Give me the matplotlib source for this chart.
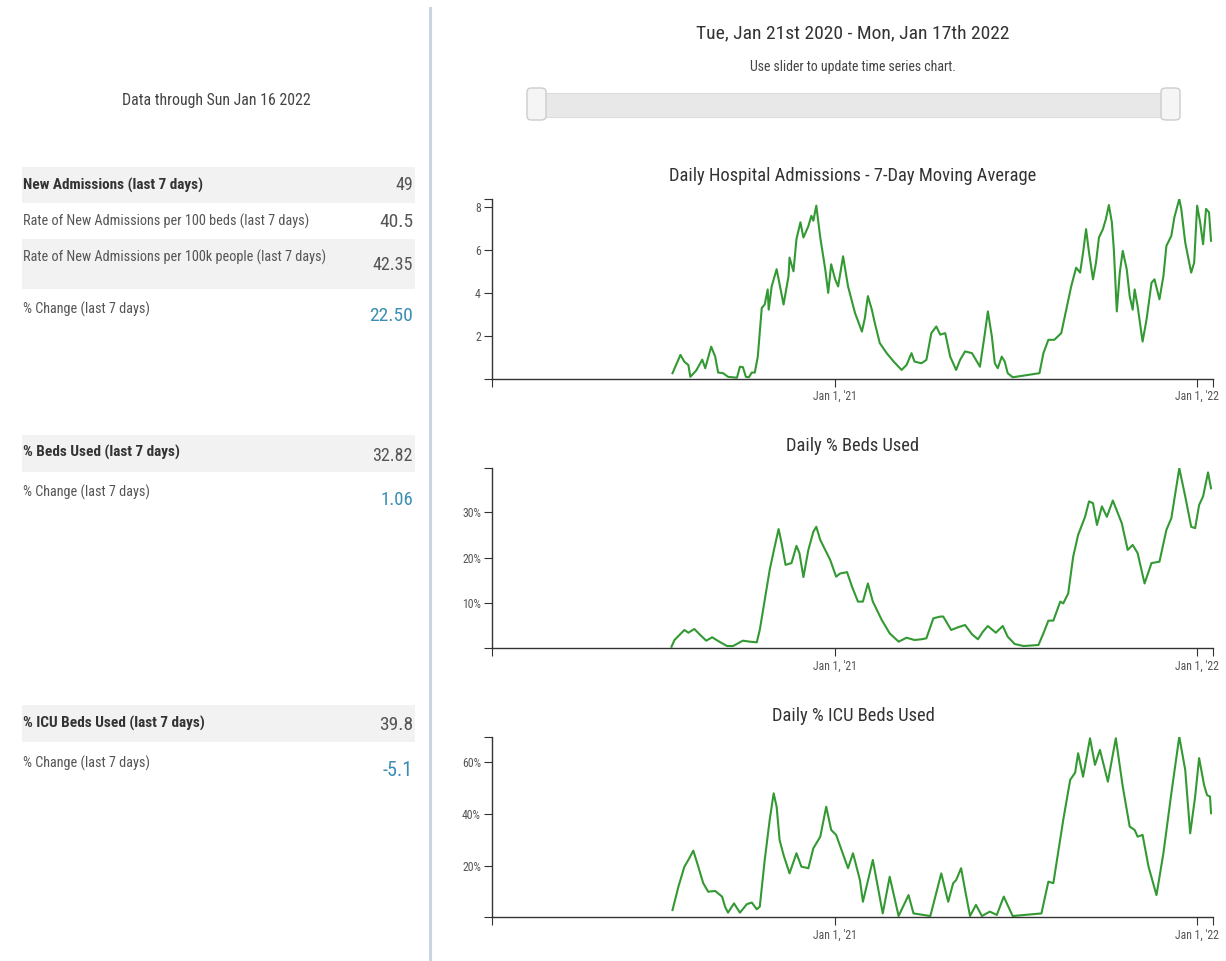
import matplotlib
matplotlib.use("Agg")
import matplotlib.pyplot as plt
from matplotlib import font_manager
from matplotlib.patches import Rectangle, FancyBboxPatch
from matplotlib.lines import Line2D
import datetime as dt

# ---------------- fonts ----------------
def _w(v):
    return v if isinstance(v, (int, float)) else font_manager.weight_dict.get(v, 400)

_entries = font_manager.fontManager.ttflist
FONT = None
NORMAL_W = "normal"
for cand in ["Open Sans Condensed", "Liberation Sans Narrow", "Roboto Condensed", "Open Sans"]:
    ws = sorted({_w(f.weight) for f in _entries if f.name == cand})
    if not ws:
        continue
    light = [w for w in ws if w <= 400]
    if light:
        FONT = cand
        NORMAL_W = max(light) if cand != "Open Sans Condensed" else min(light)
        break
if FONT is None:
    FONT = "DejaVu Sans"
plt.rcParams["font.family"] = [FONT, "DejaVu Sans"]
plt.rcParams["font.weight"] = NORMAL_W

# ---------------- data ----------------
start_date = dt.date(2020, 1, 21)
end_date = dt.date(2022, 1, 17)
range_title = "Tue, Jan 21st 2020 - Mon, Jan 17th 2022"
slider_note = "Use slider to update time series chart."
data_through = "Data through Sun Jan 16 2022"

chart_titles = ["Daily Hospital Admissions - 7-Day Moving Average",
                "Daily % Beds Used",
                "Daily % ICU Beds Used"]

# day offsets from start_date and values
adm_days = [182, 190, 194, 198, 200, 206, 212, 215, 221, 225, 228, 233, 238, 247, 250, 253, 256, 259,
            262, 265, 268, 272, 275, 278, 279, 282, 287, 289, 294, 299, 300, 304, 307, 311, 314, 319,
            322, 324, 327, 331, 336, 339, 342, 346, 349, 354, 359, 366, 373, 376, 379, 383, 386, 391,
            398, 405, 413, 418, 423, 426, 433, 438, 443, 448, 452, 457, 462, 468, 472, 477, 484, 492,
            497, 500, 504, 507, 510, 514, 517, 520, 525, 552, 556, 561, 567, 574, 579, 584, 589, 593,
            596, 599, 602, 606, 609, 612, 616, 619, 622, 625, 627, 630, 633, 636, 640, 643, 646, 648,
            651, 656, 660, 665, 668, 673, 677, 680, 685, 688, 693, 695, 699, 705, 708, 711, 714, 717,
            720, 723, 725]
adm_vals = [0.27, 1.12, 0.8, 0.65, 0.1, 0.4, 0.9, 0.5, 1.5, 1.05, 0.3, 0.27, 0.1, 0.06, 0.57, 0.55, 0.1, 0.08,
            0.3, 0.3, 1.04, 3.3, 3.46, 4.16, 3.22, 4.3, 5.1, 4.63, 3.46, 4.78, 5.64, 5.0, 6.5, 7.28, 6.57, 7.1,
            7.58, 7.35, 8.05, 6.57, 5.1, 4.0, 5.33, 4.63, 4.3, 5.7, 4.3, 3.07, 2.2, 2.84, 3.85, 3.22, 2.6, 1.67,
            1.2, 0.81, 0.42, 0.65, 1.2, 0.81, 0.73, 0.89, 2.13, 2.44, 2.06, 2.13, 1.04, 0.42, 0.89, 1.28, 1.2, 0.57,
            2.13, 3.14, 1.98, 0.73, 0.5, 1.04, 0.81, 0.27, 0.08, 0.27, 1.2, 1.82, 1.82, 2.13, 3.22, 4.3, 5.17, 4.94,
            5.87, 6.96, 5.87, 4.63, 5.4, 6.57, 6.96, 7.43, 8.08, 7.28, 6.03, 3.14, 4.94, 5.95, 5.1, 3.85, 3.22, 4.16,
            3.38, 1.74, 2.76, 4.47, 4.63, 3.7, 4.78, 6.18, 6.65, 7.5, 8.36, 7.9, 6.34, 4.94, 5.4, 8.05, 7.28, 6.26,
            7.9, 7.74, 6.42]

beds_days = [181, 184, 189, 194, 198, 204, 210, 216, 222, 228, 237, 243, 253, 260, 267, 270, 275, 280,
             285, 289, 292, 296, 302, 307, 310, 314, 319, 324, 327, 331, 336, 341, 347, 351, 358, 363,
             369, 374, 379, 384, 393, 401, 410, 418, 426, 433, 438, 445, 452, 455, 463, 470, 477, 484,
             490, 495, 500, 508, 515, 520, 527, 536, 551, 556, 561, 566, 573, 576, 581, 586, 591, 598,
             602, 606, 610, 615, 620, 626, 635, 641, 646, 651, 658, 665, 673, 680, 685, 689, 693, 699,
             705, 709, 713, 717, 722, 725]
beds_vals = [0.35, 1.83, 2.94, 4.04, 3.44, 4.26, 2.94, 1.68, 2.43, 1.61, 0.5, 0.5, 1.68, 1.46, 1.32, 4.04, 10.66, 17.3,
             22.4, 26.3, 23.2, 18.4, 18.8, 22.6, 21.0, 15.7, 21.7, 25.7, 26.8, 23.9, 21.7, 19.5, 15.8, 16.5, 16.8, 13.6,
             10.3, 10.3, 14.3, 10.3, 6.25, 3.3, 1.46, 2.34, 1.83, 1.99, 2.2, 6.6, 7.0, 7.0, 4.04, 4.64, 5.14, 3.09,
             1.99, 3.66, 4.92, 3.44, 4.92, 2.56, 0.95, 0.5, 0.73, 3.3, 6.1, 6.1, 10.3, 9.9, 12.1, 20.2, 25.0, 29.0,
             32.4, 32.0, 27.2, 31.3, 29.0, 32.6, 27.6, 21.7, 22.8, 21.0, 14.3, 18.8, 19.1, 26.1, 28.7, 34.2, 39.7, 33.5,
             26.8, 26.5, 31.6, 33.5, 38.8, 35.3]

icu_days = [182, 188, 194, 198, 203, 208, 213, 218, 225, 232, 235, 238, 244, 250, 257, 262, 267, 270,
            275, 280, 284, 287, 290, 294, 300, 307, 312, 319, 324, 331, 337, 342, 347, 351, 359, 364,
            371, 374, 384, 394, 401, 410, 420, 425, 442, 453, 460, 465, 468, 473, 477, 482, 488, 494,
            502, 509, 516, 525, 554, 561, 566, 576, 583, 588, 591, 596, 603, 608, 613, 621, 629, 636,
            643, 648, 651, 656, 662, 670, 677, 685, 693, 699, 704, 709, 713, 718, 721, 724, 725]
icu_vals = [2.8, 11.9, 19.6, 22.2, 25.8, 19.6, 13.2, 9.9, 10.2, 8.0, 4.1, 1.8, 5.4, 1.8, 5.1, 5.7, 3.1, 4.1,
            22.2, 37.7, 48.0, 42.8, 29.9, 24.1, 17.0, 24.8, 19.6, 19.0, 26.7, 31.2, 42.8, 33.8, 31.9, 27.6, 19.0, 24.8,
            14.4, 6.0, 22.2, 1.5, 15.7, 0.5, 8.6, 1.5, 0.5, 17.0, 6.0, 13.2, 14.4, 19.0, 10.6, 0.5, 4.8, 0.5,
            2.2, 0.9, 8.0, 0.5, 1.5, 13.8, 13.2, 37.7, 53.2, 56.0, 63.5, 54.4, 69.3, 59.0, 64.8, 52.5, 69.3, 50.6,
            35.1, 33.8, 31.2, 31.9, 19.6, 8.6, 24.8, 48.0, 69.9, 57.0, 32.5, 46.7, 61.6, 51.2, 47.3, 46.7, 40.3]

adm_yticks = [2, 4, 6, 8]
beds_yticks = [10, 20, 30]
icu_yticks = [20, 40, 60]
x_tick_dates = [dt.date(2021, 1, 1), dt.date(2022, 1, 1)]
x_tick_labels = ["Jan 1, '21", "Jan 1, '22"]

# left summary table
sections = [
    [("New Admissions (last 7 days)", "49", True, False),
     ("Rate of New Admissions per 100 beds (last 7 days)", "40.5", False, False),
     ("Rate of New Admissions per 100k people (last 7 days)", "42.35", False, False),
     ("% Change (last 7 days)", "22.50", False, True)],
    [("% Beds Used (last 7 days)", "32.82", True, False),
     ("% Change (last 7 days)", "1.06", False, True)],
    [("% ICU Beds Used (last 7 days)", "39.8", True, False),
     ("% Change (last 7 days)", "-5.1", False, True)],
]

# ---------------- layout helpers ----------------
W, H = 1226, 961
fig = plt.figure(figsize=(W / 100, H / 100), dpi=100)
fig.patch.set_facecolor("white")


def fx(x):
    return x / W


def fy(y):
    return 1 - y / H


GREEN = "#339933"
AXC = "#333333"
LBL = "#555555"
TEAL = "#3a8db3"

# divider
fig.add_artist(Line2D([fx(430), fx(430)], [fy(8), fy(961)], color="#c9d5e2", lw=2.2,
                      transform=fig.transFigure))

# header texts
fig.text(fx(853), fy(33), range_title, ha="center", va="center", fontsize=14, color="#333333")
fig.text(fx(853), fy(67), slider_note, ha="center", va="center", fontsize=10, color="#444444")

# slider
fig.add_artist(Rectangle((fx(533), fy(117)), fx(1175) - fx(533), fy(93) - fy(117),
                         transform=fig.transFigure, facecolor="#e8e8e8", edgecolor="#dcdcdc", lw=0.8))
for hx in (527, 1161):
    fig.add_artist(FancyBboxPatch((fx(hx), fy(120)), fx(19), fy(88) - fy(120),
                                  boxstyle="round,pad=0,rounding_size=0.004",
                                  transform=fig.transFigure, facecolor="#f5f5f5",
                                  edgecolor="#cccccc", lw=1.0))

# left panel
fig.text(fx(216), fy(101), data_through, ha="center", va="center", fontsize=11.4, color="#444444")

row_tops = [[167, 203, 239, 289], [435, 472], [705, 742]]
row_heights = [[36, 36, 50, 40], [37, 40], [37, 40]]
label_ys = [[185, 221, 257, 309], [452, 492], [723, 763]]
value_ys = [[185, 222, 265, 316], [456, 500], [725, 770]]
val_sizes = [[13, 14, 13, 14], [13, 13.5], [14, 14.5]]
for sec, tops, hts, lys, vys, vsz in zip(sections, row_tops, row_heights, label_ys, value_ys, val_sizes):
    for i, ((label, val, bold, teal), top, ht, ly, vy, vs) in enumerate(zip(sec, tops, hts, lys, vys, vsz)):
        if i % 2 == 0:
            fig.add_artist(Rectangle((fx(22), fy(top + ht)), fx(415) - fx(22), fy(top) - fy(top + ht),
                                     transform=fig.transFigure, facecolor="#f2f2f2", edgecolor="none"))
        fig.text(fx(23), fy(ly), label, ha="left", va="center", fontsize=11 if bold else 10.3,
                 fontweight="bold" if bold else NORMAL_W, color="#333333" if bold else "#555555")
        fig.text(fx(413), fy(vy), val, ha="right", va="center", fontsize=vs,
                 color=TEAL if teal else "#555555")

# charts
ax_left = fx(492)
ax_w = fx(1213) - fx(492)
panels = [
    (adm_days, adm_vals, adm_yticks, lambda v: f"{v}", 199, 379),
    (beds_days, beds_vals, beds_yticks, lambda v: f"{v}%", 468.3, 648.3),
    (icu_days, icu_vals, icu_yticks, lambda v: f"{v}%", 736.7, 917.3),
]
title_ys = [176, 446, 716]
total_days = (end_date - start_date).days
tick_days = [(d - start_date).days for d in x_tick_dates]

for (days, vals, yt, fmt, top, bot), title, ty in zip(panels, chart_titles, title_ys):
    ax = fig.add_axes([ax_left, fy(bot), ax_w, fy(top) - fy(bot)])
    ax.plot(days, vals, color=GREEN, lw=1.5, solid_joinstyle="round")
    ymax = max(vals)
    ax.set_ylim(0, ymax)
    ax.set_xlim(0, total_days)
    for s in ("top", "right"):
        ax.spines[s].set_visible(False)
    for s in ("left", "bottom"):
        ax.spines[s].set_color(AXC)
        ax.spines[s].set_linewidth(1.0)
    ax.set_yticks([0] + yt + [ymax])
    ax.set_yticklabels([""] + [fmt(v) for v in yt] + [""])
    ax.set_xticks([0] + tick_days + [total_days])
    ax.set_xticklabels([""] + x_tick_labels + [""])
    ax.tick_params(length=6, width=0.8, color=AXC, labelcolor=LBL, labelsize=8.5, pad=2)
    ax.patch.set_alpha(0)
    fig.text(fx(853), fy(ty), title, ha="center", va="center", fontsize=13.3, color="#333333")

fig.savefig("out.png", dpi=100)
